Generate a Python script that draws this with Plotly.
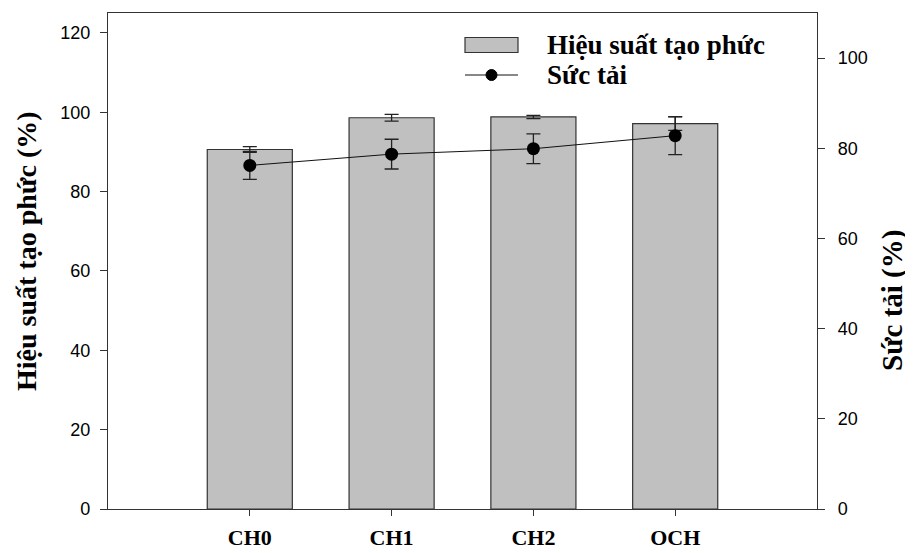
import plotly.graph_objects as go

categories = ["CH0", "CH1", "CH2", "OCH"]
hieu_suat = [90.6, 98.6, 98.8, 97.1]
hieu_suat_err = [0.7, 0.85, 0.4, 1.7]
suc_tai = [76.2, 78.7, 79.9, 82.8]
suc_tai_err = [3.1, 3.3, 3.3, 4.2]

left_ticks = [0, 20, 40, 60, 80, 100, 120]
right_ticks = [0, 20, 40, 60, 80, 100]

# page body adds an 8px offset, so the figure is sized to fit the window
OFF = 8
W, H = 913 - OFF, 553 - OFF
ML, MT = 108 - OFF, 13 - OFF
PW, PH = 709, 496
MR, MB = W - ML - PW, H - MT - PH

def px(x):  # x in window pixels -> paper
    return (x - OFF - ML) / PW

def py(y):  # y in window pixels -> paper
    return (MT + PH - (y - OFF)) / PH

serif = "Liberation Serif, Times New Roman, serif"
sans = "Liberation Sans, Arial, sans-serif"
axc = "#333333"

fig = go.Figure()
fig.add_trace(go.Bar(
    x=categories, y=hieu_suat, width=0.6,
    marker=dict(color="#c0c0c0", line=dict(color=axc, width=1.2)),
    error_y=dict(type="data", array=hieu_suat_err, color="#222", thickness=1.3, width=7),
    name="Hiệu suất tạo phức", showlegend=False,
))
fig.add_trace(go.Scatter(
    x=categories, y=suc_tai, yaxis="y2", mode="lines+markers",
    line=dict(color="#111", width=1),
    marker=dict(color="#000", size=13),
    error_y=dict(type="data", array=suc_tai_err, color="#222", thickness=1.3, width=7),
    name="Sức tải", showlegend=False,
))

# legend (drawn manually)
fig.add_shape(type="rect", xref="paper", yref="paper",
              x0=px(465), x1=px(518), y0=py(52.5), y1=py(37.5),
              fillcolor="#c0c0c0", line=dict(color=axc, width=1.2))
fig.add_shape(type="line", xref="paper", yref="paper",
              x0=px(465), x1=px(518), y0=py(75), y1=py(75),
              line=dict(color="#111", width=1))
fig.add_shape(type="circle", xref="paper", yref="paper",
              x0=px(486), x1=px(497), y0=py(80.5), y1=py(69.5),
              fillcolor="#000", line=dict(color="#000", width=1))
for txt, yy in [("Hiệu suất tạo phức", 45), ("Sức tải", 75)]:
    fig.add_annotation(text="<b>%s</b>" % txt, xref="paper", yref="paper",
                       x=px(545), y=py(yy), xanchor="left", yanchor="middle",
                       showarrow=False, font=dict(family=serif, size=27, color="#000"))

# axis titles
fig.add_annotation(text="<b>Hiệu suất tạo phức (%)</b>", xref="paper", yref="paper",
                   x=px(26), y=py(251), xanchor="center", yanchor="middle",
                   textangle=-90, showarrow=False,
                   font=dict(family=serif, size=28, color="#000"))
fig.add_annotation(text="<b>Sức tải (%)</b>", xref="paper", yref="paper",
                   x=px(893), y=py(301), xanchor="center", yanchor="middle",
                   textangle=-90, showarrow=False,
                   font=dict(family=serif, size=29, color="#000"))

fig.update_layout(
    width=W, height=H,
    margin=dict(l=ML, r=MR, t=MT, b=MB, autoexpand=False),
    paper_bgcolor="white", plot_bgcolor="white",
    showlegend=False,
    xaxis=dict(
        range=[-1, 4], showline=True, linecolor=axc, linewidth=1.3, mirror=True,
        ticks="outside", ticklen=6, tickcolor=axc, tickwidth=1.3,
        tickfont=dict(family=serif, size=22, color="#000"), ticklabelstandoff=2,
        showgrid=False, zeroline=False, automargin=False,
        tickprefix="<b>", ticksuffix="</b>",
    ),
    yaxis=dict(
        range=[0, 125], tickvals=left_ticks, showline=True, linecolor=axc, linewidth=1.3,
        ticks="outside", ticklen=7, tickcolor=axc, tickwidth=1.3,
        tickfont=dict(family=sans, size=18, color="#000"), ticklabelstandoff=6,
        showgrid=False, zeroline=False, automargin=False,
    ),
    yaxis2=dict(
        range=[0, 110], tickvals=right_ticks, overlaying="y", side="right",
        showline=True, linecolor=axc, linewidth=1.3,
        ticks="outside", ticklen=7, tickcolor=axc, tickwidth=1.3,
        tickfont=dict(family=sans, size=18, color="#000"), ticklabelstandoff=9,
        showgrid=False, zeroline=False, automargin=False,
    ),
)

fig.write_html("out.html")
